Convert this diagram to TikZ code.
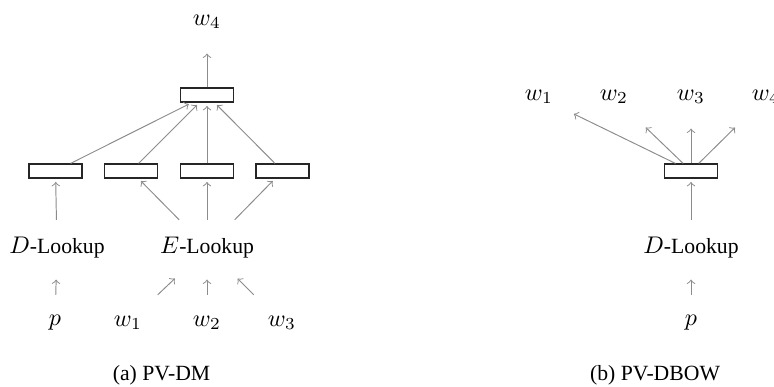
\documentclass[tikz,border=0pt]{standalone}
\usepackage{fontspec}
\setmainfont{Liberation Serif}[Scale=0.9]
\usepackage{tikz}
\usetikzlibrary{arrows}

\tikzset{
  vec/.style={draw=black!85, rectangle, minimum width=22pt, minimum height=5.8pt, inner sep=0pt, line width=0.5pt},
  lbl/.style={minimum width=26pt, minimum height=23pt, inner sep=0pt},
  conn/.style={->, draw=black!45, shorten >=1.4pt}
}

\begin{document}
\begin{tikzpicture}[x=0.415pt, y=-0.415pt]
  \useasboundingbox (0,0) rectangle (774,387);

  % (a) PV-DM
  \node[lbl]  (w4)   at (207,22)  {$w_4$};
  \node[vec]  (h)    at (207,95)  {};
  \node[vec]  (hd)   at (55.5,171) {};
  \node[vec]  (h1)   at (131,171) {};
  \node[vec]  (h2)   at (207,171) {};
  \node[vec]  (h3)   at (282.5,171) {};
  \node[lbl]  (dlk)  at (57,248)  {$D$-Lookup};
  \node[lbl]  (elk)  at (207,248) {$E$-Lookup};
  \node[lbl]  (p)    at (55,323)  {$p$};
  \node[lbl]  (x1)   at (128,323) {$w_1$};
  \node[lbl]  (x2)   at (207,323) {$w_2$};
  \node[lbl]  (x3)   at (282,323) {$w_3$};
  \node       (capa) at (161.5,375) {(a) PV-DM};

  \path[conn]
        (h)   edge (w4)
        (hd)  edge (h)
        (h1)  edge (h)
        (h2)  edge (h)
        (h3)  edge (h)
        (dlk) edge (hd)
        (elk) edge (h1)
              edge (h2)
              edge (h3)
        (p)   edge (dlk)
        (x1)  edge (elk)
        (x2)  edge (elk)
        (x3)  edge (elk);

  % (b) PV-DBOW
  \node[lbl]  (y1)   at (539,97)  {$w_1$};
  \node[lbl]  (y2)   at (614,97)  {$w_2$};
  \node[lbl]  (y3)   at (691,97)  {$w_3$};
  \node[lbl]  (y4)   at (766,97)  {$w_4$};
  \node[vec]  (g)    at (691,171) {};
  \node[lbl]  (dlkb) at (691,248) {$D$-Lookup};
  \node[lbl]  (pb)   at (691,323) {$p$};
  \node       (capb) at (655,375) {(b) PV-DBOW};

  \path[conn]
        (g)    edge (y1)
               edge (y2)
               edge (y3)
               edge (y4)
        (dlkb) edge (g)
        (pb)   edge (dlkb);
\end{tikzpicture}
\end{document}
